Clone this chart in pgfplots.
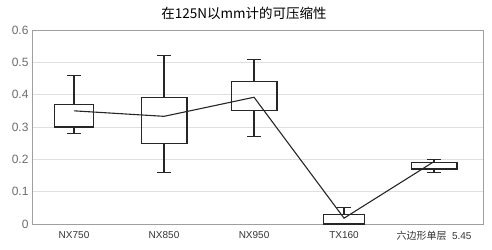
\documentclass[border=0pt]{standalone}
\usepackage{fontspec}
\setmainfont{Liberation Sans}
\newfontfamily\cjk{Noto Sans CJK SC}
\usepackage{pgfplots}
\pgfplotsset{compat=1.18}
\usepgfplotslibrary{statistics}
\begin{document}
\begin{tikzpicture}
\begin{axis}[
  width=451pt, height=194pt, scale only axis,
  xmin=-0.467, xmax=4.544, ymin=0, ymax=0.6,
  ytick={0,0.1,0.2,0.3,0.4,0.5,0.6},
  xtick={0,1,2,3,4},
  xticklabels={NX750,NX850,NX950,TX160,{{\cjk 六边形单层}\ \ 5.45}},
  ymajorgrids, grid style={gray!25, line width=0.8pt},
  axis line style={gray!75, line width=0.9pt},
  tick style={draw=none},
  boxplot/draw direction=y,
  boxplot/every median/.style={draw=none},
  /pgf/number format/assume math mode=true,
  /pgf/number format/fixed, /pgf/number format/precision=1,
  yticklabel style={text=gray!85!black, font=\fontsize{12}{12}\selectfont},
  xticklabel style={text=black!80, font=\fontsize{10}{10}\selectfont, yshift=-4pt},
  clip=false,
]
\addplot+[draw=black!85, solid, mark=none, line width=1.1pt, boxplot prepared={draw position=0, lower whisker=0.28, lower quartile=0.30, median=0.335, upper quartile=0.37, upper whisker=0.46, box extend=0.44, whisker extend=0.15}] coordinates {};
\addplot+[draw=black!85, solid, mark=none, line width=1.1pt, boxplot prepared={draw position=1, lower whisker=0.16, lower quartile=0.25, median=0.32, upper quartile=0.39, upper whisker=0.52, box extend=0.51, whisker extend=0.15}] coordinates {};
\addplot+[draw=black!85, solid, mark=none, line width=1.1pt, boxplot prepared={draw position=2, lower whisker=0.27, lower quartile=0.35, median=0.395, upper quartile=0.44, upper whisker=0.51, box extend=0.51, whisker extend=0.15}] coordinates {};
\addplot+[draw=black!85, solid, mark=none, line width=1.1pt, boxplot prepared={draw position=3, lower whisker=0.0, lower quartile=0.0, median=0.015, upper quartile=0.03, upper whisker=0.05, box extend=0.45, whisker extend=0.15}] coordinates {};
\addplot+[draw=black!85, solid, mark=none, line width=1.1pt, boxplot prepared={draw position=4, lower whisker=0.16, lower quartile=0.17, median=0.18, upper quartile=0.19, upper whisker=0.20, box extend=0.51, whisker extend=0.15}] coordinates {};
\addplot[black!85, line width=1.1pt, mark=none] coordinates {(0,0.35) (1,0.333) (2,0.392) (3,0.018) (4,0.193)};
\end{axis}
\node[font=\cjk\fontsize{13.5}{14}\selectfont] at (212pt,211pt) {在125N以mm计的可压缩性};
\pgfresetboundingbox
\path (-32pt,-25pt) rectangle (460pt,224pt);
\end{tikzpicture}
\end{document}
